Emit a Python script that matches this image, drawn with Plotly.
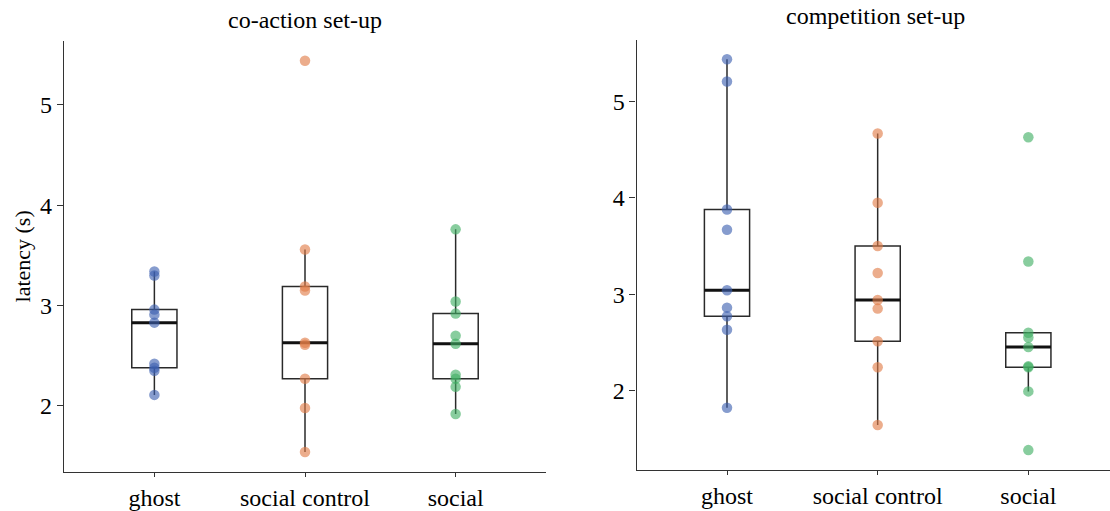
import numpy as np
import plotly.graph_objects as go

# ---------------- data ----------------
categories = ["ghost", "social control", "social"]
panel_titles = ["co-action set-up", "competition set-up"]
y_label = "latency (s)"
y_ticks = [2, 3, 4, 5]

coaction_ghost = [3.34, 3.30, 2.96, 2.91, 2.83, 2.42, 2.38, 2.35, 2.11]
coaction_social_control = [5.44, 3.56, 3.19, 3.15, 2.63, 2.61, 2.27, 1.98, 1.54]
coaction_social = [3.76, 3.04, 2.92, 2.70, 2.62, 2.31, 2.27, 2.19, 1.92]

competition_ghost = [5.44, 5.21, 3.88, 3.67, 3.04, 2.86, 2.77, 2.63, 1.82]
competition_social_control = [4.67, 3.95, 3.50, 3.22, 2.94, 2.85, 2.51, 2.24, 1.64]
competition_social = [4.63, 3.34, 2.60, 2.55, 2.45, 2.25, 2.24, 1.99, 1.38]

colors = ["#3b5fb0", "#e07a45", "#3fae62"]

panels = [
    [coaction_ghost, coaction_social_control, coaction_social],
    [competition_ghost, competition_social_control, competition_social],
]

FONT = "Liberation Serif"
W, H = 1110, 511


def box_stats(vals):
    v = np.asarray(vals, dtype=float)
    q1, med, q3 = np.quantile(v, [0.25, 0.5, 0.75])
    iqr = q3 - q1
    lo = v[v >= q1 - 1.5 * iqr].min()
    hi = v[v <= q3 + 1.5 * iqr].max()
    return q1, med, q3, lo, hi


fig = go.Figure()

axis_ids = [("x", "y"), ("x2", "y2")]
for p, groups in enumerate(panels):
    xa, ya = axis_ids[p]
    for g, vals in enumerate(groups):
        fig.add_trace(go.Scatter(
            x=[categories[g]] * len(vals), y=vals, mode="markers",
            marker=dict(size=10.5, color=colors[g], opacity=0.62, line=dict(width=0)),
            xaxis=xa, yaxis=ya, showlegend=False, hoverinfo="y"))
for p, groups in enumerate(panels):
    xa, ya = axis_ids[p]
    stats = [box_stats(v) for v in groups]
    q1 = [s[0] for s in stats]
    med = [s[1] for s in stats]
    q3 = [s[2] for s in stats]
    lo = [s[3] for s in stats]
    hi = [s[4] for s in stats]
    fig.add_trace(go.Box(
        x=categories, q1=q1, median=med, q3=q3, lowerfence=lo, upperfence=hi,
        width=0.3, whiskerwidth=0, fillcolor="rgba(0,0,0,0)",
        line=dict(color="#2a2a2a", width=1.5), boxpoints=False,
        xaxis=xa, yaxis=ya, showlegend=False, hoverinfo="skip"))
    fig.add_trace(go.Box(
        x=categories, q1=med, median=med, q3=med, lowerfence=med, upperfence=med,
        width=0.3, whiskerwidth=0, fillcolor="rgba(0,0,0,0)",
        line=dict(color="#111111", width=3), boxpoints=False,
        xaxis=xa, yaxis=ya, showlegend=False, hoverinfo="skip"))


def yrange(groups):
    allv = np.concatenate([np.asarray(g, float) for g in groups])
    lo, hi = allv.min(), allv.max()
    pad = 0.05 * (hi - lo)
    return [lo - pad, hi + pad]


axis_common = dict(
    showline=True, linecolor="#333333", linewidth=1.3, mirror=False,
    ticks="outside", tickcolor="#333333", tickwidth=1.2,
    showgrid=False, zeroline=False,
    tickfont=dict(family=FONT, size=24, color="black"),
)

fig.update_layout(
    width=W, height=H,
    margin=dict(l=0, r=0, t=0, b=0),
    paper_bgcolor="white", plot_bgcolor="white",
    boxmode="overlay",
    xaxis=dict(axis_common, domain=[64 / W, 546 / W], type="category",
               categoryorder="array", categoryarray=categories,
               range=[-0.6, 2.6], anchor="y", ticklen=4),
    yaxis=dict(axis_common, domain=[0.0716, 0.9188], range=yrange(panels[0]),
               tickvals=y_ticks, anchor="x", ticklen=6),
    xaxis2=dict(axis_common, domain=[636.6 / W, 1.0], type="category",
                categoryorder="array", categoryarray=categories,
                range=[-0.6, 2.542], anchor="y2", ticklen=4),
    yaxis2=dict(axis_common, domain=[0.0755, 0.9217], range=yrange(panels[1]),
                tickvals=y_ticks, anchor="x2", ticklen=6),
    annotations=[
        dict(text=panel_titles[0], x=305 / W, y=1 - 20 / H, xref="paper", yref="paper",
             showarrow=False, xanchor="center", yanchor="middle",
             font=dict(family=FONT, size=24, color="black")),
        dict(text=panel_titles[1], x=875 / W, y=1 - 16.5 / H, xref="paper", yref="paper",
             showarrow=False, xanchor="center", yanchor="middle",
             font=dict(family=FONT, size=24, color="black")),
        dict(text=y_label, x=22 / W, y=1 - 258 / H, xref="paper", yref="paper",
             showarrow=False, xanchor="center", yanchor="middle", textangle=-90,
             font=dict(family=FONT, size=22, color="black")),
    ],
)

fig.write_html("out.html", config={"displayModeBar": False},
               post_script="document.body.style.margin='0';document.body.style.overflow='hidden';")
